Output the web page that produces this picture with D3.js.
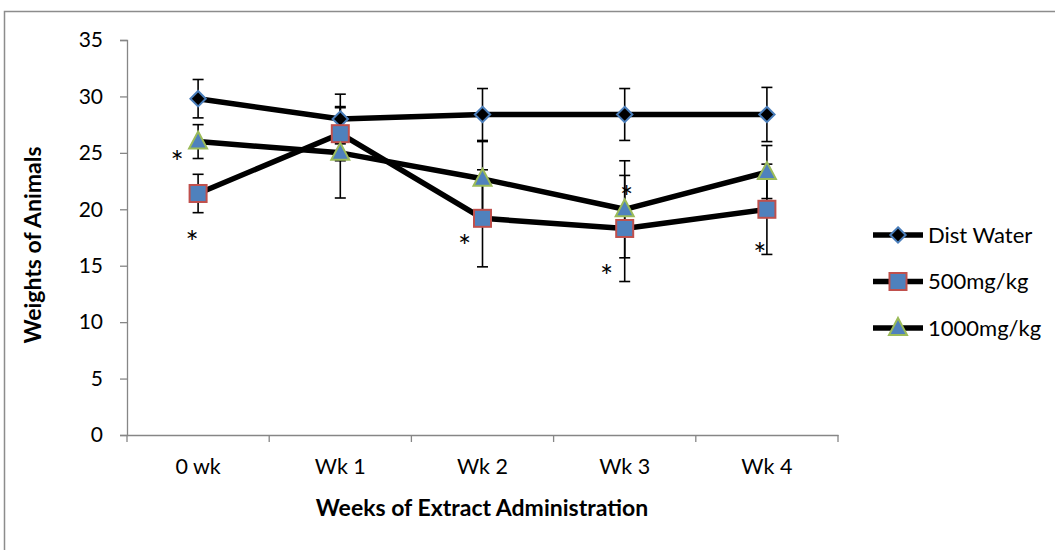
<!DOCTYPE html>
<html><head><meta charset="utf-8">
<script src="https://cdn.jsdelivr.net/npm/d3@7"></script>
<style>
html,body{margin:0;padding:0;background:#fff;}
svg{display:block;}
text{font-family:Lato, "Open Sans", sans-serif;fill:#000;}
</style></head>
<body>
<svg id="chart" width="1055" height="550"></svg>
<script>
const categories = ["0 wk", "Wk 1", "Wk 2", "Wk 3", "Wk 4"];
const seriesNames = ["Dist Water", "500mg/kg", "1000mg/kg"];
const distWater = [29.8, 28.0, 28.4, 28.4, 28.4];
const distWaterErr = [1.7, 2.2, 2.3, 2.3, 2.4];
const mg500 = [21.4, 26.7, 19.2, 18.3, 20.0];
const mg500Err = [1.7, 2.4, 4.3, 4.7, 4.0];
const mg1000 = [26.0, 25.0, 22.7, 20.0, 23.3];
const mg1000Err = [1.5, 4.0, 3.3, 4.3, 2.35];
const yTicks = [0, 5, 10, 15, 20, 25, 30, 35];
// significance marks: [category, value]
const asterisks = [["0 wk", 24.8], ["0 wk", 17.7], ["Wk 2", 17.3], ["Wk 3", 21.7], ["Wk 3", 14.7], ["Wk 4", 16.6]];
const asteriskDx = [-21, -6, -18, 2, -18, -7];

const svg = d3.select("#chart");
const mLeft = 127, mRight = 838, mTop = 40, mBottom = 435;

const x = d3.scaleBand().domain(categories).range([mLeft, mRight]).padding(0);
const cx = d => x(d) + x.bandwidth() / 2;
const y = d3.scaleLinear().domain([0, 35]).range([mBottom, mTop]);

// outer frame
svg.append("rect").attr("x", 4.5).attr("y", 11.5).attr("width", 1060).attr("height", 560)
  .attr("fill", "none").attr("stroke", "#8c8c8c").attr("stroke-width", 1.5);

const axisColor = "#868686";
// y axis
const yAxis = svg.append("g").attr("transform", `translate(${mLeft},0)`)
  .call(d3.axisLeft(y).tickValues(yTicks).tickSize(7).tickPadding(17));
yAxis.select(".domain").attr("stroke", axisColor).attr("stroke-width", 1.3);
yAxis.selectAll(".tick line").attr("stroke", axisColor).attr("stroke-width", 1.3);
yAxis.selectAll("text").attr("font-size", 21).attr("font-family", "Lato");

// x axis
const xAxis = svg.append("g").attr("transform", `translate(0,${mBottom})`)
  .call(d3.axisBottom(x).tickSize(0).tickPadding(24));
xAxis.select(".domain").attr("stroke", axisColor).attr("stroke-width", 1.3);
xAxis.selectAll("text").attr("font-size", 21.5).attr("font-family", "Lato");
const bounds = categories.map(c => x(c)).concat([x(categories[categories.length - 1]) + x.bandwidth()]);
svg.append("g").selectAll("line").data(bounds).join("line")
  .attr("x1", d => d).attr("x2", d => d).attr("y1", mBottom).attr("y2", mBottom + 7)
  .attr("stroke", axisColor).attr("stroke-width", 1.3);

// axis titles
svg.append("text").attr("x", 482).attr("y", 516).attr("text-anchor", "middle")
  .attr("font-size", 23).attr("font-weight", "bold").text("Weeks of Extract Administration");
svg.append("text").attr("transform", "translate(41,245) rotate(-90)").attr("text-anchor", "middle")
  .attr("font-size", 23).attr("font-weight", "bold").text("Weights of Animals");

const series = [
  {name: seriesNames[0], vals: distWater, err: distWaterErr, shape: "diamond"},
  {name: seriesNames[1], vals: mg500, err: mg500Err, shape: "square"},
  {name: seriesNames[2], vals: mg1000, err: mg1000Err, shape: "triangle"}
];

// error bars
const eb = svg.append("g");
series.forEach(s => {
  s.vals.forEach((v, i) => {
    const px = cx(categories[i]);
    const g = eb.append("g").attr("stroke", "#000").attr("stroke-width", 1.6);
    g.append("line").attr("x1", px).attr("x2", px).attr("y1", y(v + s.err[i])).attr("y2", y(v - s.err[i]));
    [v + s.err[i], v - s.err[i]].forEach(e => {
      g.append("line").attr("x1", px - 5.5).attr("x2", px + 5.5).attr("y1", y(e)).attr("y2", y(e));
    });
  });
});

// lines
const line = d3.line().x((d, i) => cx(categories[i])).y(d => y(d));
series.forEach(s => {
  svg.append("path").datum(s.vals).attr("d", line).attr("fill", "none")
    .attr("stroke", "#000").attr("stroke-width", 5.5).attr("stroke-linejoin", "round");
});

function drawMarker(g, shape, px, py) {
  if (shape === "diamond") {
    g.append("path").attr("d", d3.symbol().type(d3.symbolDiamond2).size(150)())
      .attr("transform", `translate(${px},${py})`)
      .attr("fill", "#000").attr("stroke", "#4a7ebb").attr("stroke-width", 2);
  } else if (shape === "square") {
    g.append("rect").attr("x", px - 8.5).attr("y", py - 8.5).attr("width", 17).attr("height", 17)
      .attr("fill", "#4f81bd").attr("stroke", "#c0504d").attr("stroke-width", 2);
  } else {
    g.append("path").attr("d", `M${px},${py - 10}L${px + 9},${py + 7}L${px - 9},${py + 7}Z`)
      .attr("fill", "#4f81bd").attr("stroke", "#9bbb59").attr("stroke-width", 2).attr("stroke-linejoin", "miter");
  }
}

const mk = svg.append("g");
series.forEach(s => {
  s.vals.forEach((v, i) => drawMarker(mk, s.shape, cx(categories[i]), y(v)));
});

// asterisks
const astSize = 31;
svg.append("g").selectAll("text").data(asterisks).join("text")
  .attr("x", (d, i) => cx(d[0]) + asteriskDx[i]).attr("y", d => y(d[1]) + 0.57 * astSize)
  .attr("text-anchor", "middle").attr("font-size", astSize).text("*");

// legend
const lg = svg.append("g");
series.forEach((s, i) => {
  const ly = 235 + i * 46.5;
  lg.append("line").attr("x1", 873).attr("x2", 923).attr("y1", ly).attr("y2", ly)
    .attr("stroke", "#000").attr("stroke-width", 5.5);
  drawMarker(lg, s.shape, 898, ly);
  lg.append("text").attr("x", 928).attr("y", ly + 7.5).attr("font-size", 22).text(s.name);
});
</script>
</body></html>
